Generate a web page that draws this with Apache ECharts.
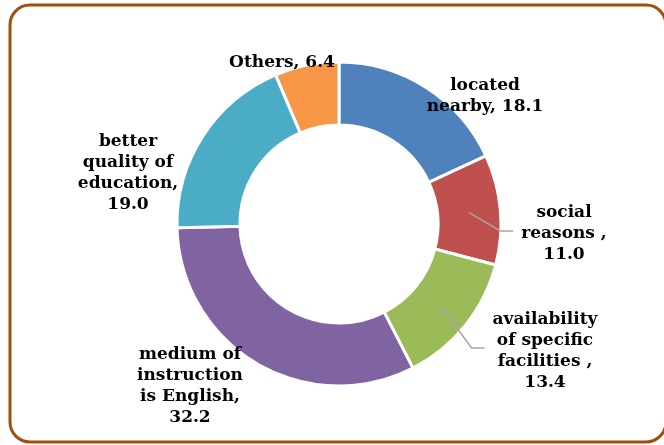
<!DOCTYPE html>
<html>
<head>
<meta charset="utf-8">
<script src="https://cdn.jsdelivr.net/npm/echarts@6/dist/echarts.min.js"></script>
<style>html,body{margin:0;padding:0;background:#fff}#c{width:664px;height:445px}</style>
</head>
<body>
<div id="c"></div>
<script>
// ---- data ----
var categories = ['located nearby', 'social reasons', 'availability of specific facilities', 'medium of instruction is English', 'better quality of education', 'Others'];
var values = [18.1, 11.0, 13.4, 32.2, 19.0, 6.4];
var labelTemplates = ['located\nnearby, {v}', 'social\nreasons ,\n{v}', 'availability\nof specific\nfacilities ,\n{v}', 'medium of\ninstruction\nis English,\n{v}', 'better\nquality of\neducation,\n{v}', 'Others, {v}'];
var colors = ['#4F81BD', '#C0504D', '#9BBB59', '#8064A2', '#4BACC6', '#F79646'];

// ---- layout ----
var CX = 339, CY = 224, R0 = 99, R1 = 162;
var FONT_SIZE = 17, FONT_FAMILY = 'DejaVu Serif';
var labelPos = [[485, 96], [564, 234], [545, 351], [190, 386], [128, 173], [282, 63]];
var withLine = [false, true, true, false, false, false];

var total = values.reduce(function (a, b) { return a + b; }, 0);
function midAngle(i) {
  var s = 0;
  for (var k = 0; k < i; k++) s += values[k];
  return (s + values[i] / 2) / total * 2 * Math.PI;
}
function labelText(i) {
  return labelTemplates[i].replace('{v}', values[i].toFixed(1));
}
var ctx = document.createElement('canvas').getContext('2d');
ctx.font = 'bold ' + FONT_SIZE + 'px "' + FONT_FAMILY + '"';
function labelWidth(i) {
  return Math.max.apply(null, labelText(i).split('\n').map(function (t) { return ctx.measureText(t).width; }));
}

var graphics = [{
  type: 'rect', z: -1,
  shape: {x: 10, y: 5, width: 656, height: 437, r: 20},
  style: {fill: '#fff', stroke: '#A04F0D', lineWidth: 3}
}];
values.forEach(function (v, i) {
  if (!withLine[i]) return;
  var a = midAngle(i), rm = (R0 + R1) / 2;
  var sx = CX + rm * Math.sin(a), sy = CY - rm * Math.cos(a);
  var ex = labelPos[i][0] - labelWidth(i) / 2 - 8, ey = labelPos[i][1] - 3;
  graphics.push({
    type: 'polyline', z: 10,
    shape: {points: [[sx, sy], [ex - 13, ey], [ex, ey]]},
    style: {stroke: '#A6A6A6', lineWidth: 1.5, fill: null}
  });
});

var chart = echarts.init(document.getElementById('c'), null, {renderer: 'canvas'});
var data = categories.map(function (c, i) {
  return {name: c, value: values[i], itemStyle: {color: colors[i]}};
});

chart.setOption({
  animation: false,
  graphic: graphics,
  series: [{
    type: 'pie',
    center: [CX, CY],
    radius: [R0, R1],
    startAngle: 90,
    clockwise: true,
    avoidLabelOverlap: false,
    itemStyle: {borderColor: '#fff', borderWidth: 3},
    label: {
      show: true,
      position: 'outside',
      formatter: function (p) { return labelText(p.dataIndex); },
      fontFamily: FONT_FAMILY,
      fontWeight: 'bold',
      fontSize: FONT_SIZE,
      lineHeight: 21,
      color: '#000',
      align: 'center'
    },
    labelLine: {show: false},
    labelLayout: function (p) {
      var pos = labelPos[p.dataIndex];
      return {x: pos[0], y: pos[1], align: 'center', verticalAlign: 'middle'};
    },
    data: data
  }]
});
</script>
</body>
</html>
